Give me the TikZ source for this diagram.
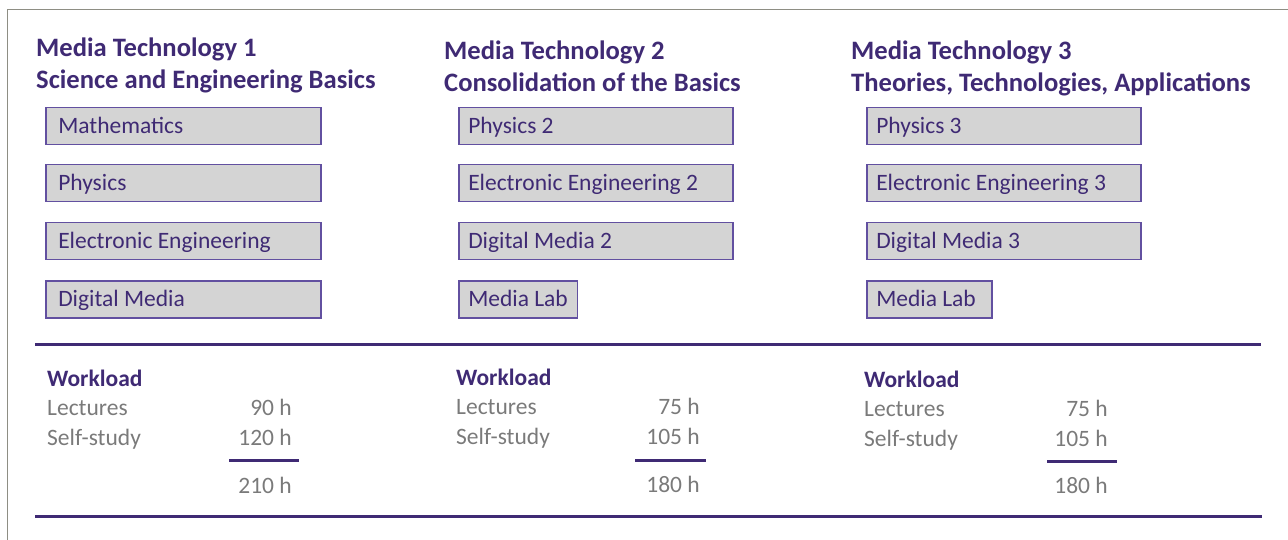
\documentclass[tikz,border=0pt]{standalone}
\usepackage{fontspec}
\setmainfont{Carlito}
\definecolor{mtpurple}{HTML}{3F2A74}
\definecolor{mtedge}{HTML}{6250A0}
\definecolor{mtfill}{HTML}{D4D4D4}
\definecolor{mtgray}{HTML}{7A7A7A}
\definecolor{mtframe}{HTML}{8E8E84}

\begin{document}
\begin{tikzpicture}[x=1pt,y=-1pt,
    heading/.style={anchor=base west,inner sep=0pt,text=mtpurple,
        font=\fontsize{26.6}{31}\selectfont\bfseries},
    module/.style={draw=mtedge,fill=mtfill,line width=1.5pt,anchor=north west,
        minimum height=37pt,inner xsep=12.5pt,text width=250pt,align=flush left,
        text height=17pt,text depth=3pt,text=mtpurple,
        font=\fontsize{23.5}{28}\selectfont},
    widemodule/.style={module,inner xsep=9.5pt,text width=255pt},
    shortmodule/.style={module,text width=,inner xsep=9.5pt},
    wltitle/.style={anchor=base west,inner sep=0pt,text=mtpurple,
        font=\fontsize{23.5}{28}\selectfont\bfseries},
    wlitem/.style={anchor=base west,inner sep=0pt,text=mtgray,
        font=\fontsize{23.5}{28}\selectfont},
    wlhours/.style={wlitem,anchor=base east},
    rule/.style={draw=mtpurple,line width=3pt}]
    \useasboundingbox (0,0) rectangle (1288,540);

    % frame
    \draw[mtframe,line width=1pt] (1288,10) -- (7,10) -- (7,540);

    % headings
    \node[heading] (h1a) at (36,57) {Media Technology 1};
    \node[heading] (h1b) at (36,89) {Science and Engineering Basics};
    \node[heading] (h2a) at (444,60) {Media Technology 2};
    \node[heading] (h2b) at (444,92) {Consolidation of the Basics};
    \node[heading] (h3a) at (851,60) {Media Technology 3};
    \node[heading] (h3b) at (851,92) {Theories, Technologies, Applications};

    % modules, first year
    \node[module] (m1a) at (45,107) {Mathematics};
    \node[module] (m1b) at (45,164) {Physics};
    \node[module] (m1c) at (45,222) {Electronic Engineering};
    \node[module] (m1d) at (45,280) {Digital Media};

    % modules, second year
    \node[widemodule] (m2a) at (458,107) {Physics 2};
    \node[widemodule] (m2b) at (458,164) {Electronic Engineering 2};
    \node[widemodule] (m2c) at (458,222) {Digital Media 2};
    \node[shortmodule] (m2d) at (458,280) {Media Lab};

    % modules, third year
    \node[widemodule] (m3a) at (866,107) {Physics 3};
    \node[widemodule] (m3b) at (866,164) {Electronic Engineering 3};
    \node[widemodule] (m3c) at (866,222) {Digital Media 3};
    \node[shortmodule,text width=106pt] (m3d) at (866,280) {Media Lab};

    % rules
    \draw[rule] (35,344) -- (1261,344);
    \draw[rule] (35,516) -- (1262,516);

    % workload, first year
    \node[wltitle] (w1) at (47,386) {Workload};
    \node[wlitem] (w1l) at (47,415) {Lectures};
    \node[wlitem] (w1s) at (47,445) {Self-study};
    \node[wlhours] (w1lh) at (292,415) {90 h};
    \node[wlhours] (w1sh) at (292,445) {120 h};
    \draw[rule] (229,460) -- (299,460);
    \node[wlhours] (w1t) at (292,493) {210 h};

    % workload, second year
    \node[wltitle] (w2) at (456,385) {Workload};
    \node[wlitem] (w2l) at (456,414) {Lectures};
    \node[wlitem] (w2s) at (456,444) {Self-study};
    \node[wlhours] (w2lh) at (700,414) {75 h};
    \node[wlhours] (w2sh) at (700,444) {105 h};
    \draw[rule] (635,460) -- (706,460);
    \node[wlhours] (w2t) at (700,492) {180 h};

    % workload, third year
    \node[wltitle] (w3) at (864,387) {Workload};
    \node[wlitem] (w3l) at (864,416) {Lectures};
    \node[wlitem] (w3s) at (864,446) {Self-study};
    \node[wlhours] (w3lh) at (1108,416) {75 h};
    \node[wlhours] (w3sh) at (1108,446) {105 h};
    \draw[rule] (1047,461) -- (1117,461);
    \node[wlhours] (w3t) at (1108,493) {180 h};
\end{tikzpicture}
\end{document}
